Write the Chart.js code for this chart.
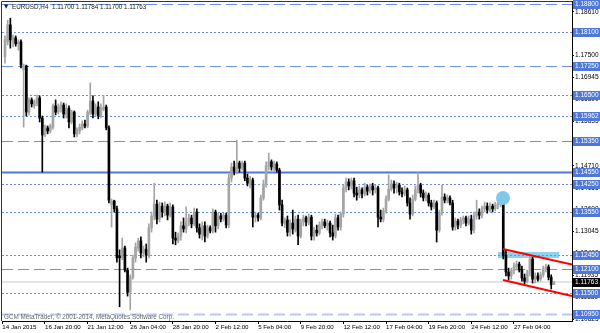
<!DOCTYPE html>
<html>
<head>
<meta charset="utf-8">
<script src="https://cdn.jsdelivr.net/npm/chart.js@4.4.0/dist/chart.umd.min.js"></script>
<style>
html, body { margin: 0; padding: 0; background: #fff; }
#contenedor { width: 600px; height: 333px; }
</style>
</head>
<body>
<div id="contenedor"><canvas id="grafica" width="600" height="333"></canvas></div>
<script>
// Datos del gráfico EURUSD H4
const simbolo = 'EURUSD,H4';
const marcaAgua = 'GCM MetaTrader, © 2001-2014, MetaQuotes Software Corp.';

const etiquetasX = ['14 Jan 2015', '16 Jan 20:00', '21 Jan 12:00', '26 Jan 04:00', '28 Jan 20:00', '2 Feb 12:00',
    '5 Feb 04:00', '9 Feb 20:00', '12 Feb 12:00', '17 Feb 04:00', '19 Feb 20:00', '24 Feb 12:00', '27 Feb 04:00'];
const posicionesX = [-1, 15, 31, 47, 63, 79, 95, 111, 127, 143, 159, 175, 191];

const ticksY = [1.18610, 1.18055, 1.17500, 1.16945, 1.16390, 1.15835, 1.15280, 1.14710, 1.14155,
    1.13600, 1.13045, 1.12490, 1.11935, 1.11380, 1.10825];

const niveles = [1.18800, 1.18100, 1.17250, 1.16500, 1.15962, 1.15350, 1.14550, 1.14250, 1.13550,
    1.12450, 1.12100, 1.11500, 1.10950];

const aperturas = [
    1.1747, 1.1785, 1.1828, 1.1785, 1.1795, 1.1780, 1.1785, 1.1714, 1.1724, 1.1607,
    1.1638, 1.1623, 1.1630, 1.1643, 1.1592, 1.1549, 1.1567, 1.1559, 1.1569, 1.1623,
    1.1607, 1.1617, 1.1625, 1.1600, 1.1617, 1.1582, 1.1607, 1.1549, 1.1559, 1.1567,
    1.1577, 1.1572, 1.1605, 1.1635, 1.1602, 1.1620, 1.1597, 1.1615, 1.1620, 1.1567,
    1.1372, 1.1382, 1.1362, 1.1243, 1.1238, 1.1263, 1.1207, 1.1151, 1.1189, 1.1238,
    1.1263, 1.1281, 1.1250, 1.1260, 1.1243, 1.1314, 1.1344, 1.1374, 1.1336, 1.1369,
    1.1354, 1.1369, 1.1346, 1.1367, 1.1288, 1.1281, 1.1293, 1.1319, 1.1311, 1.1329,
    1.1339, 1.1324, 1.1354, 1.1314, 1.1298, 1.1319, 1.1293, 1.1314, 1.1306, 1.1354,
    1.1319, 1.1344, 1.1336, 1.1346, 1.1321, 1.1440, 1.1468, 1.1458, 1.1478, 1.1465,
    1.1478, 1.1440, 1.1425, 1.1435, 1.1341, 1.1346, 1.1339, 1.1390, 1.1425, 1.1471,
    1.1481, 1.1465, 1.1476, 1.1460, 1.1372, 1.1324, 1.1334, 1.1303, 1.1326, 1.1308,
    1.1336, 1.1293, 1.1329, 1.1339, 1.1326, 1.1341, 1.1293, 1.1308, 1.1301, 1.1321,
    1.1329, 1.1319, 1.1326, 1.1301, 1.1293, 1.1339, 1.1316, 1.1349, 1.1415, 1.1430,
    1.1420, 1.1433, 1.1402, 1.1397, 1.1410, 1.1400, 1.1417, 1.1407, 1.1420, 1.1410,
    1.1415, 1.1341, 1.1336, 1.1357, 1.1387, 1.1412, 1.1425, 1.1415, 1.1422, 1.1405,
    1.1400, 1.1410, 1.1377, 1.1349, 1.1387, 1.1410, 1.1422, 1.1402, 1.1390, 1.1397,
    1.1377, 1.1367, 1.1377, 1.1308, 1.1351, 1.1392, 1.1384, 1.1390, 1.1377, 1.1316,
    1.1331, 1.1321, 1.1334, 1.1339, 1.1326, 1.1336, 1.1308, 1.1344, 1.1354, 1.1346,
    1.1362, 1.1369, 1.1359, 1.1369, 1.1362, 1.1372, 1.1374, 1.1379, 1.1243, 1.1202,
    1.1192, 1.1205, 1.1215, 1.1222, 1.1207, 1.1187, 1.1179, 1.1200, 1.1235, 1.1184,
    1.1192, 1.1184, 1.1195, 1.1210, 1.1215, 1.1189, 1.11700
];
const maximos = [
    1.1800, 1.1840, 1.1845, 1.1802, 1.1800, 1.1790, 1.1790, 1.1729, 1.1726, 1.1643,
    1.1643, 1.1638, 1.1650, 1.1648, 1.1597, 1.1574, 1.1572, 1.1577, 1.1628, 1.1638,
    1.1628, 1.1633, 1.1630, 1.1628, 1.1623, 1.1612, 1.1610, 1.1567, 1.1577, 1.1585,
    1.1587, 1.1612, 1.1681, 1.1648, 1.1628, 1.1633, 1.1628, 1.1650, 1.1625, 1.1572,
    1.1387, 1.1384, 1.1369, 1.1258, 1.1288, 1.1268, 1.1212, 1.1195, 1.1245, 1.1276,
    1.1288, 1.1291, 1.1268, 1.1273, 1.1324, 1.1354, 1.1427, 1.1384, 1.1379, 1.1377,
    1.1379, 1.1374, 1.1377, 1.1372, 1.1303, 1.1301, 1.1329, 1.1339, 1.1367, 1.1349,
    1.1346, 1.1364, 1.1362, 1.1324, 1.1329, 1.1329, 1.1321, 1.1319, 1.1362, 1.1359,
    1.1351, 1.1351, 1.1351, 1.1351, 1.1450, 1.1478, 1.1483, 1.1536, 1.1483, 1.1483,
    1.1483, 1.1450, 1.1445, 1.1440, 1.1354, 1.1351, 1.1397, 1.1435, 1.1481, 1.1503,
    1.1486, 1.1483, 1.1481, 1.1465, 1.1384, 1.1339, 1.1344, 1.1334, 1.1359, 1.1344,
    1.1346, 1.1336, 1.1346, 1.1344, 1.1349, 1.1346, 1.1316, 1.1321, 1.1329, 1.1336,
    1.1336, 1.1334, 1.1331, 1.1321, 1.1349, 1.1346, 1.1354, 1.1422, 1.1440, 1.1438,
    1.1440, 1.1440, 1.1417, 1.1420, 1.1415, 1.1427, 1.1422, 1.1425, 1.1427, 1.1422,
    1.1420, 1.1359, 1.1364, 1.1395, 1.1448, 1.1435, 1.1433, 1.1430, 1.1427, 1.1415,
    1.1420, 1.1415, 1.1390, 1.1397, 1.1420, 1.1453, 1.1427, 1.1410, 1.1405, 1.1402,
    1.1384, 1.1384, 1.1382, 1.1359, 1.1422, 1.1400, 1.1397, 1.1395, 1.1384, 1.1339,
    1.1336, 1.1341, 1.1344, 1.1344, 1.1344, 1.1346, 1.1354, 1.1384, 1.1362, 1.1369,
    1.1379, 1.1377, 1.1377, 1.1374, 1.1379, 1.1382, 1.1384, 1.1384, 1.1258, 1.1212,
    1.1212, 1.1225, 1.1230, 1.1227, 1.1217, 1.1197, 1.1207, 1.1243, 1.1240, 1.1200,
    1.1200, 1.1202, 1.1217, 1.1222, 1.1220, 1.1195, 1.11784
];
const minimos = [
    1.1731, 1.1777, 1.1769, 1.1772, 1.1774, 1.1764, 1.1719, 1.1569, 1.1597, 1.1600,
    1.1620, 1.1617, 1.1623, 1.1582, 1.1455, 1.1544, 1.1552, 1.1554, 1.1564, 1.1600,
    1.1602, 1.1607, 1.1592, 1.1592, 1.1567, 1.1577, 1.1544, 1.1544, 1.1552, 1.1562,
    1.1567, 1.1567, 1.1600, 1.1592, 1.1597, 1.1590, 1.1592, 1.1610, 1.1562, 1.1377,
    1.1316, 1.1354, 1.1227, 1.1114, 1.1233, 1.1202, 1.1141, 1.1106, 1.1184, 1.1227,
    1.1255, 1.1238, 1.1240, 1.1227, 1.1238, 1.1303, 1.1334, 1.1324, 1.1329, 1.1341,
    1.1344, 1.1334, 1.1341, 1.1273, 1.1271, 1.1276, 1.1283, 1.1303, 1.1301, 1.1319,
    1.1314, 1.1319, 1.1303, 1.1288, 1.1283, 1.1278, 1.1288, 1.1301, 1.1301, 1.1303,
    1.1311, 1.1329, 1.1331, 1.1314, 1.1314, 1.1430, 1.1448, 1.1450, 1.1455, 1.1460,
    1.1433, 1.1420, 1.1415, 1.1316, 1.1329, 1.1331, 1.1334, 1.1384, 1.1417, 1.1460,
    1.1460, 1.1458, 1.1455, 1.1359, 1.1319, 1.1314, 1.1293, 1.1293, 1.1298, 1.1303,
    1.1271, 1.1288, 1.1319, 1.1319, 1.1321, 1.1283, 1.1283, 1.1293, 1.1296, 1.1311,
    1.1314, 1.1308, 1.1291, 1.1283, 1.1288, 1.1308, 1.1308, 1.1341, 1.1405, 1.1410,
    1.1412, 1.1392, 1.1384, 1.1390, 1.1390, 1.1395, 1.1397, 1.1402, 1.1397, 1.1402,
    1.1316, 1.1329, 1.1329, 1.1351, 1.1382, 1.1407, 1.1402, 1.1402, 1.1397, 1.1392,
    1.1395, 1.1369, 1.1336, 1.1344, 1.1382, 1.1402, 1.1392, 1.1382, 1.1382, 1.1369,
    1.1359, 1.1362, 1.1278, 1.1303, 1.1346, 1.1377, 1.1377, 1.1372, 1.1308, 1.1308,
    1.1311, 1.1314, 1.1324, 1.1319, 1.1321, 1.1298, 1.1301, 1.1336, 1.1336, 1.1339,
    1.1354, 1.1351, 1.1354, 1.1354, 1.1357, 1.1362, 1.1367, 1.1235, 1.1192, 1.1182,
    1.1184, 1.1197, 1.1207, 1.1202, 1.1179, 1.1172, 1.1174, 1.1192, 1.1174, 1.1174,
    1.1179, 1.1179, 1.1189, 1.1202, 1.1182, 1.1159, 1.11700
];
const cierres = [
    1.1790, 1.1828, 1.1790, 1.1795, 1.1780, 1.1785, 1.1726, 1.1724, 1.1607, 1.1638,
    1.1628, 1.1633, 1.1643, 1.1592, 1.1549, 1.1567, 1.1559, 1.1572, 1.1623, 1.1607,
    1.1620, 1.1625, 1.1602, 1.1617, 1.1582, 1.1607, 1.1552, 1.1562, 1.1569, 1.1577,
    1.1572, 1.1607, 1.1635, 1.1602, 1.1620, 1.1597, 1.1617, 1.1620, 1.1567, 1.1384,
    1.1382, 1.1362, 1.1238, 1.1238, 1.1263, 1.1207, 1.1151, 1.1189, 1.1238, 1.1265,
    1.1281, 1.1250, 1.1260, 1.1245, 1.1314, 1.1344, 1.1374, 1.1336, 1.1369, 1.1354,
    1.1369, 1.1346, 1.1367, 1.1288, 1.1283, 1.1293, 1.1319, 1.1311, 1.1329, 1.1339,
    1.1324, 1.1354, 1.1314, 1.1298, 1.1319, 1.1293, 1.1314, 1.1306, 1.1354, 1.1319,
    1.1344, 1.1336, 1.1346, 1.1321, 1.1440, 1.1468, 1.1458, 1.1478, 1.1465, 1.1478,
    1.1440, 1.1427, 1.1438, 1.1341, 1.1346, 1.1339, 1.1390, 1.1425, 1.1471, 1.1481,
    1.1468, 1.1476, 1.1460, 1.1372, 1.1326, 1.1334, 1.1303, 1.1326, 1.1311, 1.1336,
    1.1293, 1.1329, 1.1339, 1.1329, 1.1341, 1.1293, 1.1308, 1.1301, 1.1321, 1.1329,
    1.1319, 1.1326, 1.1301, 1.1293, 1.1339, 1.1316, 1.1349, 1.1415, 1.1430, 1.1420,
    1.1433, 1.1402, 1.1397, 1.1410, 1.1400, 1.1417, 1.1407, 1.1420, 1.1410, 1.1415,
    1.1341, 1.1336, 1.1357, 1.1387, 1.1412, 1.1425, 1.1415, 1.1422, 1.1405, 1.1400,
    1.1410, 1.1377, 1.1349, 1.1387, 1.1410, 1.1422, 1.1402, 1.1390, 1.1397, 1.1377,
    1.1367, 1.1377, 1.1308, 1.1351, 1.1392, 1.1384, 1.1390, 1.1377, 1.1316, 1.1331,
    1.1321, 1.1334, 1.1339, 1.1326, 1.1336, 1.1308, 1.1344, 1.1354, 1.1346, 1.1362,
    1.1369, 1.1359, 1.1369, 1.1362, 1.1372, 1.1374, 1.1379, 1.1243, 1.1202, 1.1192,
    1.1205, 1.1215, 1.1222, 1.1207, 1.1187, 1.1179, 1.1200, 1.1235, 1.1184, 1.1192,
    1.1184, 1.1195, 1.1210, 1.1215, 1.1189, 1.1170, 1.11763
];

// Objetos dibujados sobre el gráfico (barra, precio)
const lineaSuperior = [{ x: 186.9, y: 1.12604 }, { x: 212.8, y: 1.12211 }];
const lineaInferior = [{ x: 186.9, y: 1.11819 }, { x: 212.8, y: 1.11413 }];
const zonaX = [185, 207.9];
const zonaY = [1.12375, 1.12527];
const circulo = [{ x: 186.9, y: 1.13895 }];

const rangoX = [-1.13, 212.8];
const rangoY = [1.10780, 1.18884];

// Estilo de cada nivel horizontal (mismo orden que niveles)
const tiposNivel = ['guion', 'punto', 'guion', 'punto', 'punto', 'guion', 'solido', 'punto', 'punto',
    'punto', 'guion', 'punto', 'guionClaro'];

const GRIS = '#a4a4a4';
const NEGRO = '#000000';
const AZUL = '#6d8fe6';
const fuente = 'Liberation Sans';

const indices = aperturas.map((_, i) => i);
const colores = indices.map(i => cierres[i] >= aperturas[i] ? GRIS : NEGRO);

function fmt(v) { return v.toFixed(5); }

const pluginNiveles = {
    id: 'niveles',
    beforeDatasetsDraw(chart) {
        const { ctx, chartArea: a, scales: { x, y } } = chart;
        ctx.save();
        ctx.beginPath();
        ctx.rect(a.left, a.top, a.right - a.left, a.bottom - a.top);
        ctx.clip();

        // zona azul
        const zx1 = x.getPixelForValue(zonaX[0]), zx2 = x.getPixelForValue(zonaX[1]);
        const zy1 = y.getPixelForValue(zonaY[1]), zy2 = y.getPixelForValue(zonaY[0]);
        ctx.fillStyle = '#8fd2f0';
        ctx.fillRect(zx1, zy1, zx2 - zx1, zy2 - zy1);

        // línea de precio actual
        const ultimo = cierres[cierres.length - 1];
        const yp = Math.round(y.getPixelForValue(ultimo));
        ctx.fillStyle = '#e4e4e4';
        ctx.fillRect(a.left, yp - 1, a.right - a.left, 2);

        niveles.forEach((nivel, i) => {
            const tipo = tiposNivel[i];
            const py = Math.round(y.getPixelForValue(nivel)) + 0.5;
            ctx.beginPath();
            ctx.lineWidth = 1;
            ctx.strokeStyle = AZUL;
            if (tipo === 'guion') ctx.setLineDash([11, 5]);
            else if (tipo === 'punto') ctx.setLineDash([2, 2]);
            else if (tipo === 'guionClaro') { ctx.setLineDash([11, 5]); ctx.lineWidth = 2; ctx.strokeStyle = '#b9c8f1'; }
            else { ctx.setLineDash([]); ctx.lineWidth = 2; ctx.strokeStyle = '#5177d8'; }
            ctx.moveTo(a.left, py);
            ctx.lineTo(a.right, py);
            ctx.stroke();
        });
        ctx.restore();
    },
    afterDraw(chart) {
        const { ctx, chartArea: a, scales: { y } } = chart;
        ctx.save();
        ctx.textBaseline = 'middle';
        ctx.font = '6.5px "' + fuente + '"';

        // etiquetas de niveles en el eje derecho
        niveles.forEach(nivel => {
            const py = Math.round(y.getPixelForValue(nivel));
            ctx.fillStyle = '#4f78dc';
            ctx.fillRect(a.right + 1, py - 4, 27, 9);
            ctx.fillStyle = '#fff';
            ctx.fillText(fmt(nivel), a.right + 3, py + 0.5);
        });
        const ultimo = cierres[cierres.length - 1];
        const pu = Math.round(y.getPixelForValue(ultimo));
        ctx.fillStyle = '#000';
        ctx.fillRect(a.right + 1, pu - 4, 27, 9);
        ctx.fillStyle = '#fff';
        ctx.fillText(fmt(ultimo), a.right + 3, pu + 0.5);

        // título
        const n = cierres.length - 1;
        ctx.fillStyle = '#222';
        ctx.font = '5.5px "DejaVu Sans"';
        ctx.fillText('▼', 4, 7);
        ctx.font = '6.3px "' + fuente + '"';
        ctx.fillText(simbolo + '  ' + fmt(aperturas[n]) + ' ' + fmt(maximos[n]) + ' ' + fmt(minimos[n]) + ' ' + fmt(cierres[n]), 12, 7);

        // marca de agua
        ctx.fillStyle = '#6a6a6a';
        ctx.fillText(marcaAgua, 4, a.bottom - 4);

        // marco
        ctx.strokeStyle = '#333';
        ctx.lineWidth = 1;
        ctx.beginPath();
        ctx.moveTo(1.5, a.bottom);
        ctx.lineTo(1.5, 1.5);
        ctx.lineTo(a.right, 1.5);
        ctx.stroke();
        ctx.restore();
    }
};

const ctx = document.getElementById('grafica');
new Chart(ctx, {
    type: 'bar',
    data: {
        datasets: [
            {
                type: 'line',
                data: circulo,
                showLine: false,
                pointRadius: 7,
                pointBackgroundColor: '#7ec8ec',
                pointBorderWidth: 0,
                order: 0
            },
            {
                type: 'line',
                data: lineaSuperior,
                borderColor: '#ff0000',
                borderWidth: 2,
                pointRadius: 0,
                order: 1
            },
            {
                type: 'line',
                data: lineaInferior,
                borderColor: '#ff0000',
                borderWidth: 2,
                pointRadius: 0,
                order: 1
            },
            {
                data: indices.map(i => ({ x: i, y: [aperturas[i], cierres[i]] })),
                backgroundColor: colores,
                barThickness: 2,
                minBarLength: 1,
                grouped: false,
                borderSkipped: false,
                order: 3
            },
            {
                data: indices.map(i => ({ x: i, y: [minimos[i], maximos[i]] })),
                backgroundColor: colores,
                barThickness: 1,
                grouped: false,
                borderSkipped: false,
                order: 4
            }
        ]
    },
    options: {
        responsive: false,
        animation: false,
        layout: { autoPadding: false, padding: { left: 2, top: 1, right: 0, bottom: 0 } },
        plugins: { legend: { display: false }, tooltip: { enabled: false } },
        scales: {
            x: {
                type: 'linear',
                min: rangoX[0],
                max: rangoX[1],
                offset: false,
                grid: { offset: false, drawOnChartArea: false, tickLength: 3, color: '#000' },
                border: { display: true, color: '#000' },
                ticks: {
                    font: { family: fuente, size: 6.2 },
                    color: '#000',
                    align: 'start',
                    maxRotation: 0,
                    autoSkip: false,
                    padding: 0,
                    callback: (v, i) => etiquetasX[i]
                },
                afterBuildTicks: s => { s.ticks = posicionesX.map(v => ({ value: v })); },
                afterFit: s => { s.height = 12; s.paddingLeft = 0; s.paddingRight = 0; }
            },
            y: {
                position: 'right',
                min: rangoY[0],
                max: rangoY[1],
                grid: { drawOnChartArea: false, tickLength: 2, color: '#000' },
                border: { display: true, color: '#000' },
                ticks: {
                    font: { family: fuente, size: 6.5 },
                    color: '#000',
                    padding: 1,
                    autoSkip: false,
                    callback: v => fmt(v)
                },
                afterBuildTicks: s => { s.ticks = ticksY.map(v => ({ value: v })); },
                afterFit: s => { s.width = 28; s.paddingTop = 0; s.paddingBottom = 0; }
            }
        }
    },
    plugins: [pluginNiveles]
});
</script>
</body>
</html>
